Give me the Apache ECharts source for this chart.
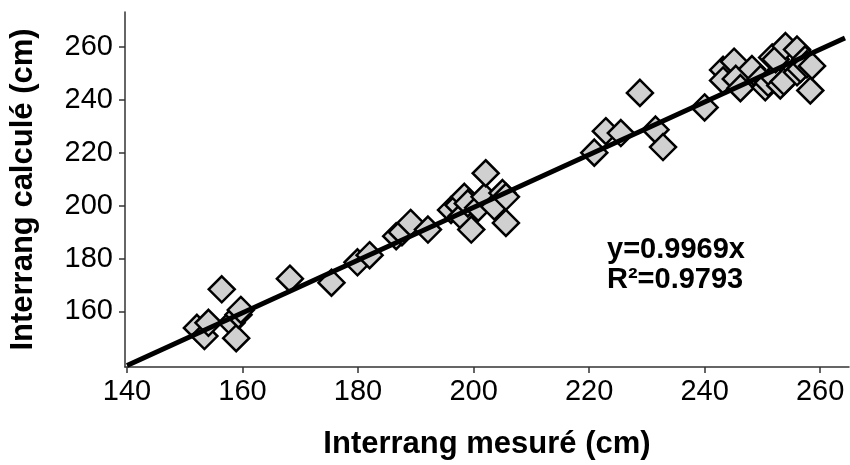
<!DOCTYPE html>
<html>
<head>
<meta charset="utf-8">
<script src="https://cdn.jsdelivr.net/npm/echarts@6/dist/echarts.min.js"></script>
<style>html,body{margin:0;padding:0;background:#fff}#c{width:850px;height:465px}</style>
</head>
<body>
<div id="c"></div>
<script>
// Measured (x) vs calculated (y) row spacing, cm
const measured = [152.1,153.4,154.1,156.4,158.1,158.9,159.3,159.7,168.2,175.4,179.9,182.0,186.6,187.6,189.1,192.1,196.1,197.4,197.9,198.4,199.0,199.6,200.8,201.9,202.1,203.6,205.0,205.6,205.6,220.9,222.9,225.5,228.8,231.5,232.8,240.0,243.2,243.2,245.1,245.4,246.2,248.2,249.7,250.5,251.0,251.7,252.0,252.3,253.1,253.7,254.0,256.0,256.0,256.6,257.4,257.7,258.3,258.6];
const calculated = [153.8,150.7,155.7,168.4,155.7,149.9,158.8,160.6,172.4,170.9,178.6,181.3,188.5,190.0,193.5,191.0,198.4,200.2,196.0,203.4,200.9,191.0,199.2,203.4,212.3,199.7,204.8,203.4,193.5,220.1,228.2,227.5,242.7,228.8,222.2,237.2,251.4,247.4,254.5,248.0,244.5,251.7,248.0,244.8,246.5,256.1,248.6,255.4,245.5,247.0,260.4,259.1,250.5,251.7,255.4,253.5,243.6,252.9];
// Regression line y = 0.9969x, endpoints
const fitX = [140, 264.3];
const fitY = [139.6, 263.5];
const xTicks = [140,160,180,200,220,240,260];
const yTicks = [160,180,200,220,240,260];
const xTitle = 'Interrang mesuré (cm)';
const yTitle = 'Interrang calculé (cm)';
const eqLines = ['y=0.9969x', 'R²=0.9793'];

const points = measured.map((v, i) => [v, calculated[i]]);
const fit = fitX.map((v, i) => [v, fitY[i]]);

const chart = echarts.init(document.getElementById('c'), null, {renderer: 'canvas'});
const axisFont = {fontFamily: 'Liberation Sans, Arial, sans-serif', fontSize: 29, color: '#000'};
chart.setOption({
  animation: false,
  backgroundColor: '#fff',
  grid: {left: 123, right: 1, top: 12, bottom: 92, containLabel: false},
  xAxis: {
    type: 'value', min: 139.65, max: 265,
    name: xTitle, nameLocation: 'middle', nameGap: 62,
    nameTextStyle: {fontFamily: 'Liberation Sans, Arial, sans-serif', fontSize: 31, fontWeight: 'bold', color: '#000'},
    axisLine: {show: true, onZero: false, lineStyle: {color: '#333', width: 1.5}},
    axisTick: {show: true, inside: false, length: 6, customValues: xTicks, lineStyle: {color: '#333', width: 1.5}},
    axisLabel: Object.assign({customValues: xTicks, margin: 10}, axisFont),
    splitLine: {show: false}
  },
  yAxis: {
    type: 'value', min: 139, max: 273.3,
    name: yTitle, nameLocation: 'middle', nameGap: 86, nameRotate: 90,
    nameTextStyle: {fontFamily: 'Liberation Sans, Arial, sans-serif', fontSize: 31, fontWeight: 'bold', color: '#000'},
    axisLine: {show: true, onZero: false, lineStyle: {color: '#333', width: 1.5}},
    axisTick: {show: true, inside: false, length: 6, customValues: yTicks, lineStyle: {color: '#333', width: 1.5}},
    axisLabel: Object.assign({customValues: yTicks, margin: 12}, axisFont),
    splitLine: {show: false}
  },
  series: [
    {
      type: 'scatter', data: points, symbol: 'diamond', symbolSize: 26, z: 2,
      itemStyle: {color: '#d0d0d0', borderColor: '#000', borderWidth: 2.5, opacity: 1}
    },
    {
      type: 'line', data: fit, showSymbol: false, symbol: 'none', z: 3,
      lineStyle: {color: '#000', width: 5}
    }
  ],
  graphic: [
    {type: 'text', left: 607, top: 235, z: 10,
     style: {text: eqLines.join('\n'), fill: '#000', font: 'bold 29px "Liberation Sans", Arial, sans-serif', lineHeight: 30}}
  ]
});
</script>
</body>
</html>
